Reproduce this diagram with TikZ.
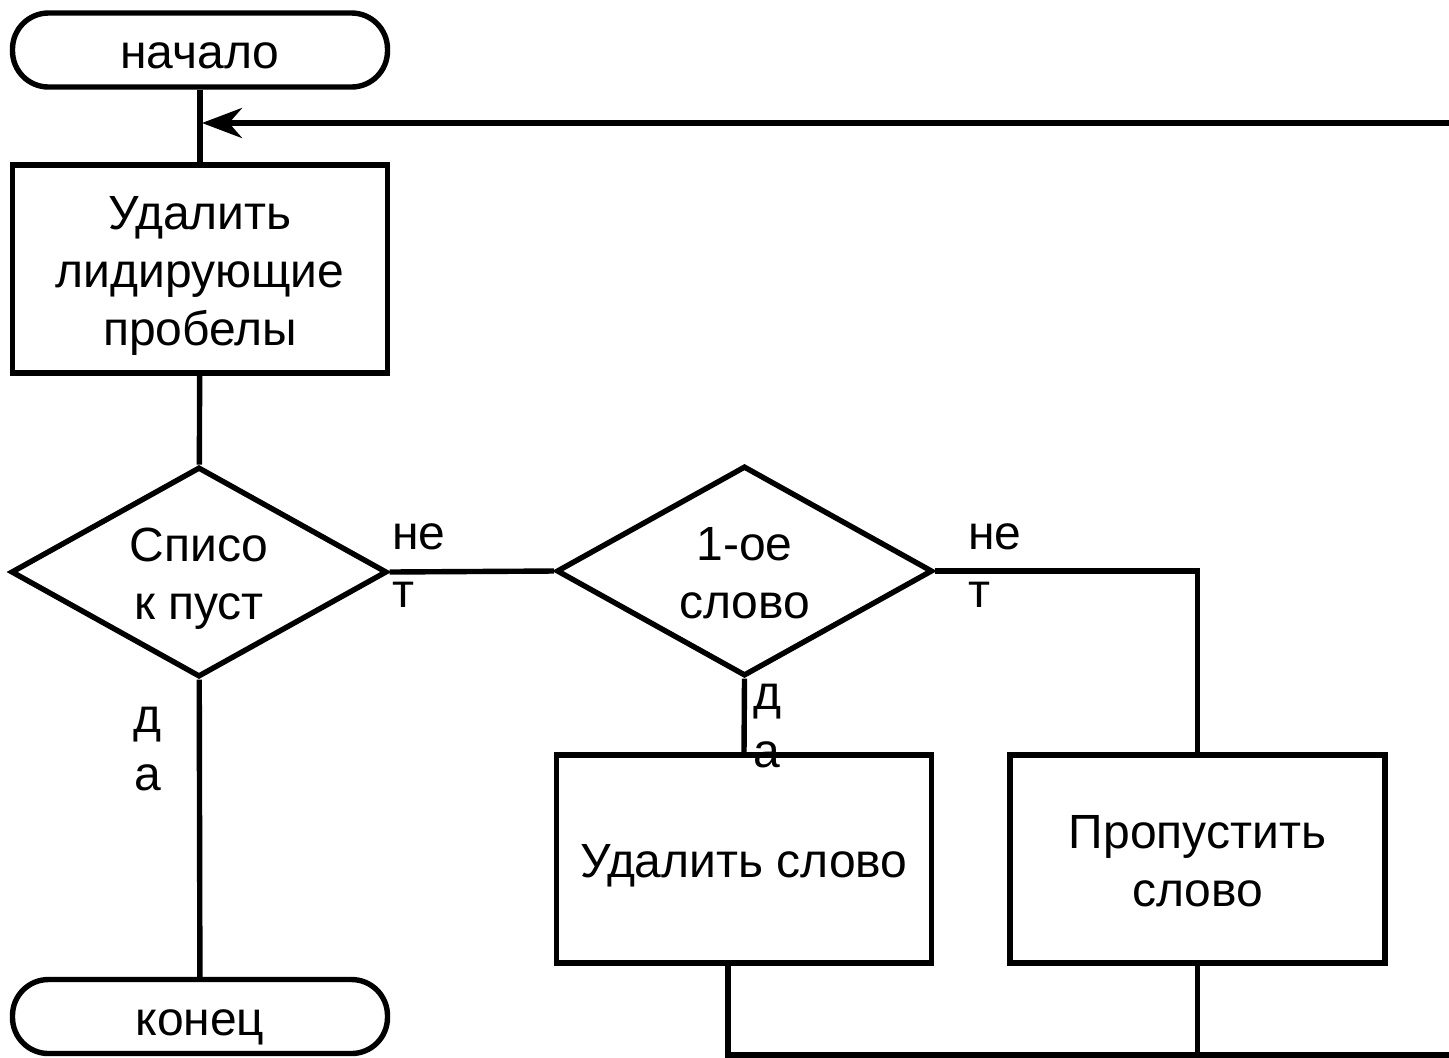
\documentclass[tikz,border=0pt]{standalone}
\usepackage{fontspec}
\setmainfont{Liberation Sans}
\usetikzlibrary{shapes.geometric,arrows.meta}
\newcommand{\mytx}[1]{\raisebox{-3.5pt}[\height][\depth]{\begin{tabular}{@{}c@{}}#1\end{tabular}}}
\begin{document}
\begin{tikzpicture}[x=0.5pt,y=-0.5pt,
  every node/.style={font=\fontsize{24}{28.8}\selectfont},
  lw/.style={line width=2.7pt},
  term/.style={lw,draw,rectangle,rounded corners=18pt,minimum width=187.5pt,minimum height=37pt,inner sep=0pt},
  proc/.style={lw,draw,rectangle,minimum width=187.5pt,minimum height=104pt,inner sep=0pt},
  dec/.style={lw,draw,diamond,aspect=1.78,minimum width=188pt,minimum height=105pt,inner sep=0pt},
  lab/.style={inner sep=0pt,anchor=base west,align=left},
  conn/.style={lw}]
\useasboundingbox (0,0) rectangle (1449,1057);
\node[term] (start) at (200,50) {\mytx{начало}};
\node[proc] (b1) at (200,269) {\mytx{Удалить\\лидирующие\\пробелы}};
\node[dec] (d1) at (199,572) {\mytx{Списо\\к пуст}};
\node[term] (end) at (200,1016.5) {\mytx{конец}};
\node[dec] (d2) at (744.5,571) {\mytx{1-ое\\слово}};
\node[proc] (b2) at (744,859) {\mytx{Удалить слово}};
\node[proc] (b3) at (1197.5,859) {\mytx{Пропустить\\слово}};
\coordinate (loopr) at (1449,123);
\coordinate (loopj) at (200,123);
\coordinate (exit) at (1449,1055);
\draw[conn] (start) -- (b1);
\draw[conn] (b1) -- (d1);
\draw[conn] (d1) -- (end);
\draw[conn] (d1.east) -- (d2.west);
\draw[conn] (d2.east) -| (b3.north);
\draw[conn] (d2.south) -- (b2.north);
\draw[conn] ([xshift=-8pt]b2.south) |- (exit);
\draw[conn] (b3.south) -- (b3.south |- exit);
\draw[conn,-{Stealth[length=20pt,width=15pt,inset=6.5pt]}] (loopr) -- ([xshift=1pt]loopj);
\node[lab] at (392,607) {не\\т};
\node[lab] at (968,607) {не\\т};
\node[inner sep=0pt,anchor=base,align=center] at (148,790) {д\\а};
\node[lab] at (753,767) {д\\а};
\end{tikzpicture}
\end{document}
